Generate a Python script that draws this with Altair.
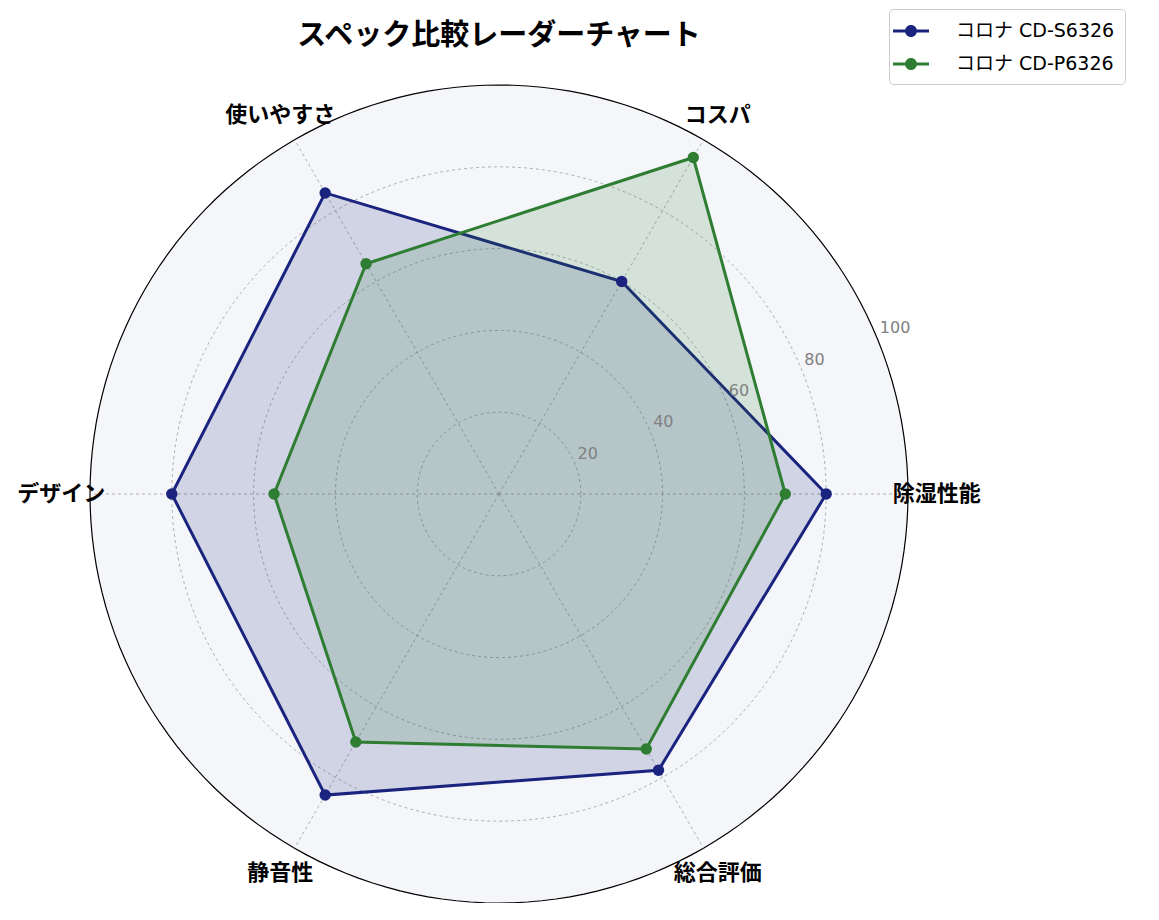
import pandas as pd
import altair as alt

# spec scores per category
categories = ["除湿性能", "コスパ", "使いやすさ", "デザイン", "静音性", "総合評価"]
models = ["コロナ CD-S6326", "コロナ CD-P6326"]
s6326 = [80, 60, 85, 80, 85, 78]
p6326 = [70, 95, 65, 55, 70, 72]
ticks = [20, 40, 60, 80, 100]
colors = ["#1a237e", "#2e7d32"]

font = "Noto Sans CJK JP"
latin = "DejaVu Sans, Noto Sans CJK JP"

# long table, first point repeated so each polygon closes
rows = []
for m, vals in zip(models, [s6326, p6326]):
    for i, (c, v) in enumerate(zip(categories + categories[:1], vals + vals[:1])):
        rows.append({"model": m, "cat": c, "idx": i, "value": v})
df = pd.DataFrame(rows)
cats = pd.DataFrame({"cat": categories, "idx": range(len(categories))})
tk = pd.DataFrame({"lv": ticks})

X = lambda f: alt.X(f, type="quantitative", scale=alt.Scale(domain=[-100, 100], nice=False), axis=None)
Y = lambda f: alt.Y(f, type="quantitative", scale=alt.Scale(domain=[-100, 100], nice=False), axis=None)

# circular rings built in vega from the tick list
rings = (alt.Chart(alt.sequence(0, 361, 2, as_="deg"))
    .transform_calculate(lv=str(ticks))
    .transform_flatten(["lv"])
    .transform_calculate(rx="datum.lv*cos(datum.deg*PI/180)",
                         ry="datum.lv*sin(datum.deg*PI/180)"))

disc = (rings.transform_filter("datum.lv == 100")
    .mark_line(fill="#f5f6fa", stroke="black", strokeWidth=1.2)
    .encode(x=X("rx"), y=Y("ry"), order="deg:Q"))

grid = (rings.transform_filter("datum.lv < 100")
    .mark_line(stroke="#9e9e9e", strokeWidth=0.8, strokeDash=[3, 3])
    .encode(x=X("rx"), y=Y("ry"), detail="lv:N", order="deg:Q"))

spokes = (alt.Chart(cats)
    .transform_calculate(z="0",
                         sx="100*cos(datum.idx*PI/3)",
                         sy="100*sin(datum.idx*PI/3)")
    .mark_rule(stroke="#9e9e9e", strokeWidth=0.8, strokeDash=[3, 3])
    .encode(x=X("z"), y=Y("z"), x2="sx:Q", y2="sy:Q"))

poly = (alt.Chart(df)
    .transform_calculate(px="datum.value*cos(datum.idx*PI/3)",
                         py="datum.value*sin(datum.idx*PI/3)"))

shapes = [poly.transform_filter(alt.datum.model == m)
          .mark_line(fill=c, fillOpacity=0.16, stroke=c, strokeWidth=3)
          .encode(x=X("px"), y=Y("py"), order="idx:Q")
          for m, c in zip(models, colors)]

# legend symbol: a short bar with a dot in the middle
legend_sym = ("M-1.5,-0.125L1.5,-0.125L1.5,0.125L-1.5,0.125Z"
              "M-0.5,0A0.5,0.5 0 1,1 0.5,0A0.5,0.5 0 1,1 -0.5,0Z")
color = alt.Color("model:N", sort=models,
    scale=alt.Scale(domain=models, range=colors),
    legend=alt.Legend(title=None, orient="none", legendX=799, legendY=-76,
        symbolType=legend_sym, symbolSize=576, symbolStrokeWidth=0,
        symbolOpacity=1,
        labelFont=latin, labelFontSize=19, labelColor="black", labelOffset=33,
        rowPadding=11, padding=10, strokeColor="#cccccc", fillColor="white",
        cornerRadius=4))

pts = (poly.transform_filter("datum.idx < 6")
    .mark_point(filled=True, size=130, opacity=1)
    .encode(x=X("px"), y=Y("py"), color=color))

labels = (alt.Chart(cats)
    .transform_calculate(lx="107*cos(datum.idx*PI/3)",
                         ly="107*sin(datum.idx*PI/3)")
    .mark_text(font=font, fontSize=22, fontWeight="bold", color="black",
               align="center", baseline="middle")
    .encode(x=X("lx"), y=Y("ly"), text="cat:N"))

rlabels = (alt.Chart(tk)
    .transform_calculate(tx="datum.lv*cos(PI/8)", ty="datum.lv*sin(PI/8)")
    .mark_text(font="DejaVu Sans", fontSize=16, color="#808080", align="left",
               baseline="bottom", dx=3, dy=-1)
    .encode(x=X("tx"), y=Y("ty"), text="lv:Q"))

chart = (alt.layer(disc, grid, spokes, *shapes, pts, labels, rlabels)
    .properties(width=818, height=818,
        title=alt.TitleParams("スペック比較レーダーチャート", font=font, fontSize=29,
                              fontWeight="bold", anchor="middle", offset=0, dy=42,
                              color="black"),
        autosize="none",
        padding={"left": 82, "top": 77, "right": 243, "bottom": 0})
    .configure_view(stroke=None))

chart.save("out.html", embed_options={"renderer": "svg", "actions": False})
